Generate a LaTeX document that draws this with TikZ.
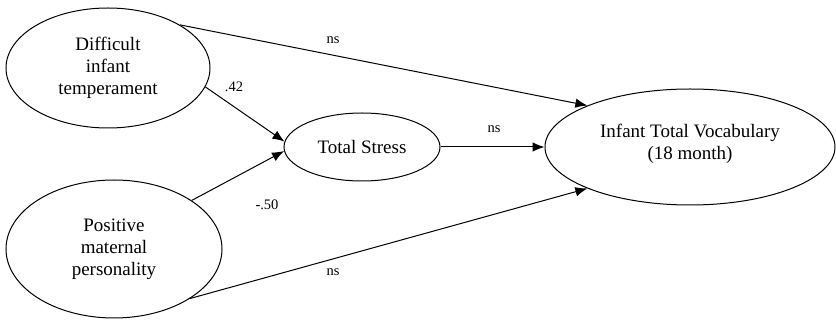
\documentclass[tikz,border=0pt]{standalone}
\usepackage{fontspec}
\setmainfont{Liberation Serif}
\usetikzlibrary{shapes.geometric,arrows.meta}
\begin{document}
\begin{tikzpicture}[x=1pt,y=-1pt,
  latent/.style={draw, ellipse, line width=1pt, inner sep=0pt, align=center,
    font=\fontsize{19}{22}\selectfont},
  path/.style={draw, line width=1pt, -{Latex[length=12pt,width=9.5pt]}},
  coef/.style={font=\fontsize{14.5}{17}\selectfont, inner sep=0pt}]
\useasboundingbox (0,0) rectangle (836,320);
\node[latent, minimum width=204pt, minimum height=120pt] (d) at (108,68) {Difficult\\infant\\temperament};
\node[latent, minimum width=216pt, minimum height=138pt] (p) at (114,249) {Positive\\maternal\\personality};
\node[latent, minimum width=156pt, minimum height=68pt] (s) at (362,147) {Total Stress};
\node[latent, minimum width=290pt, minimum height=116pt] (v) at (690,147) {Infant Total Vocabulary\\(18 month)\\[-12pt]};
\draw[path] (d.31) -- (v.158.5);
\draw[path] (d.-11) -- (s.176);
\draw[path] (p.32) -- (s.183);
\draw[path] (p.-33) -- (v.202.5);
\draw[path] (s.east) -- (v.west);
\node[coef] (l1) at (333,40) {ns};
\node[coef] (l2) at (234,87) {.42};
\node[coef] (l3) at (267,205) {-.50};
\node[coef] (l4) at (333,272) {ns};
\node[coef] (l5) at (494,129) {ns};
\end{tikzpicture}
\end{document}
